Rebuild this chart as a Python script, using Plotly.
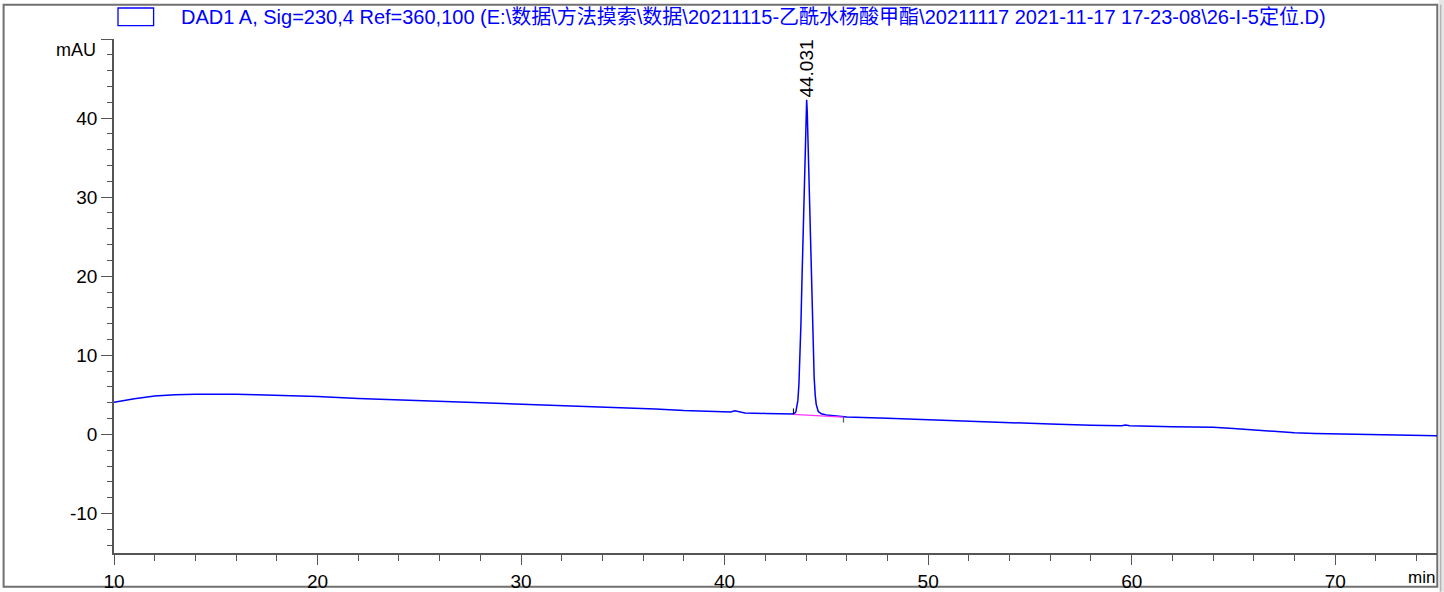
import plotly.graph_objects as go

# ---- data ----
time_min = [10.0, 11.0, 12.0, 13.0, 14.0, 15.0, 16.0, 17.0, 18.0, 19.0, 20.0,
            22.0, 24.0, 26.0, 28.0, 30.0, 32.0, 34.0, 36.0, 36.3, 36.6, 38.0,
            40.0, 40.3, 40.5, 40.7, 41.0, 42.0, 43.0, 43.4, 43.5, 43.6, 43.65,
            43.7, 43.75, 43.8, 43.85, 43.9, 43.95, 44.0, 44.031, 44.06, 44.1,
            44.15, 44.2, 44.25, 44.3, 44.35, 44.4, 44.45, 44.5, 44.6, 44.75,
            45.0, 45.5, 46.0, 48.0, 50.0, 52.0, 54.0, 56.0, 58.0, 59.5, 59.7,
            59.9, 62.0, 64.0, 65.0, 66.0, 67.0, 68.0, 69.0, 70.0, 72.0, 74.0, 75.0]
signal_mau = [4.05, 4.5, 4.85, 5.02, 5.08, 5.1, 5.07, 5.0, 4.93, 4.86, 4.78,
              4.55, 4.37, 4.19, 4.03, 3.85, 3.65, 3.45, 3.28, 3.32, 3.22, 3.02,
              2.8, 2.84, 3.0, 2.88, 2.72, 2.65, 2.6, 2.57, 2.85, 4.3, 6.3,
              9.5, 14.0, 19.5, 25.0, 30.5, 36.0, 40.8, 42.3, 40.8, 37.0,
              32.0, 26.0, 20.5, 15.0, 10.5, 7.2, 5.0, 3.8, 2.9, 2.6,
              2.45, 2.3, 2.2, 2.05, 1.85, 1.65, 1.45, 1.3, 1.15, 1.1, 1.2,
              1.08, 0.98, 0.9, 0.75, 0.55, 0.35, 0.2, 0.12, 0.08, 0.0, -0.12, -0.17]

peak_rt = [44.031]
peak_apex = [42.3]
peak_labels = ["44.031"]

integ_t = [43.38, 45.84]
integ_v = [2.53, 2.19]

x_ticks = [10, 20, 30, 40, 50, 60, 70]
y_ticks = [-10, 0, 10, 20, 30, 40, 50]
y_ticktext = ["-10", "0", "10", "20", "30", "40", ""]

legend_text = ("DAD1 A, Sig=230,4 Ref=360,100 (E:\\数据\\方法摸索\\数据\\20211115-乙酰水杨酸甲酯"
               "\\20211117 2021-11-17 17-23-08\\26-I-5定位.D)")

W, H = 1444, 592
L, R, T, B = 113.7, 7.3, 39.3, 38.7
pw, ph = W - L - R, H - T - B

def px(x):
    return (x - L) / pw

def py(y):
    return (H - B - y) / ph

FONT = "Liberation Sans, Arial"
fig = go.Figure()
fig.add_trace(go.Scatter(x=time_min, y=signal_mau, mode="lines",
                         line=dict(color="#0000ff", width=1.5), hoverinfo="skip"))
fig.add_trace(go.Scatter(x=integ_t, y=integ_v, mode="lines",
                         line=dict(color="#ff33ff", width=1.2), hoverinfo="skip"))
# integration start / end tick marks
fig.add_trace(go.Scatter(x=[integ_t[0], integ_t[0]], y=[integ_v[0], integ_v[0] + 0.75],
                         mode="lines", line=dict(color="black", width=1), hoverinfo="skip"))
fig.add_trace(go.Scatter(x=[integ_t[1], integ_t[1]], y=[integ_v[1], integ_v[1] - 0.7],
                         mode="lines", line=dict(color="#606060", width=1.3), hoverinfo="skip"))

for rt, ap, lab in zip(peak_rt, peak_apex, peak_labels):
    fig.add_annotation(x=rt, y=ap, text=lab, textangle=-90, showarrow=False,
                       xanchor="center", yanchor="bottom", yshift=0,
                       font=dict(family=FONT, size=19, color="black"))

axis_col = "#555555"
fig.update_xaxes(range=[10, 75], showgrid=False, zeroline=False, automargin=False,
                 showline=True, linecolor=axis_col, linewidth=1.5,
                 ticks="outside", ticklen=10, tickwidth=1.3, tickcolor=axis_col,
                 tickvals=x_ticks,
                 minor=dict(dtick=2, tick0=10, ticks="outside", ticklen=6,
                            tickwidth=1.3, tickcolor=axis_col),
                 tickfont=dict(family=FONT, size=19, color="black"))
fig.update_yaxes(range=[-15, 50], showgrid=False, zeroline=False, automargin=False,
                 showline=True, linecolor=axis_col, linewidth=1.5,
                 ticks="outside", ticklen=11, tickwidth=1.3, tickcolor=axis_col,
                 tickvals=y_ticks, ticktext=y_ticktext,
                 minor=dict(dtick=2, tick0=0, ticks="outside", ticklen=5,
                            tickwidth=1.3, tickcolor=axis_col),
                 tickfont=dict(family=FONT, size=19, color="black"))

shapes = [
    # outer frame
    dict(type="rect", xref="paper", yref="paper", x0=px(3.3), x1=px(1437), y0=py(587), y1=py(5),
         line=dict(color="#707070", width=2), fillcolor="rgba(0,0,0,0)", layer="below"),
    # grey strip at right
    dict(type="rect", xref="paper", yref="paper", x0=px(1438.5), x1=px(1444), y0=py(592), y1=py(0),
         line=dict(width=0), fillcolor="#e6e6e6", layer="below"),
    dict(type="line", xref="paper", yref="paper", x0=px(1440.5), x1=px(1440.5), y0=py(592), y1=py(5),
         line=dict(color="#a0a0a0", width=1)),
    # legend box
    dict(type="rect", xref="paper", yref="paper", x0=px(117.7), x1=px(153.3), y0=py(26), y1=py(8.3),
         line=dict(color="#0000ff", width=1.3), fillcolor="rgba(0,0,0,0)"),
]

annotations = [
    dict(xref="paper", yref="paper", x=px(179), y=py(17), text=legend_text, showarrow=False,
         xanchor="left", yanchor="middle",
         font=dict(family=FONT + ", Noto Sans CJK SC", size=20, color="#0000ff")),
    dict(xref="paper", yref="paper", x=px(97.5), y=py(50), text="mAU", showarrow=False,
         xanchor="right", yanchor="middle",
         font=dict(family=FONT, size=18, color="black")),
    dict(xref="paper", yref="paper", x=px(1437), y=py(578), text="min", showarrow=False,
         xanchor="right", yanchor="middle",
         font=dict(family=FONT, size=17, color="black")),
]

fig.update_layout(width=W, height=H, showlegend=False, autosize=False,
                  margin=dict(l=L, r=R, t=T, b=B, pad=0, autoexpand=False),
                  paper_bgcolor="white", plot_bgcolor="white",
                  shapes=shapes)
for a in annotations:
    fig.add_annotation(**a)

fig.write_html("out.html", config={"displayModeBar": False, "responsive": False},
               post_script="document.body.style.margin='0px';document.body.style.overflow='hidden';")
